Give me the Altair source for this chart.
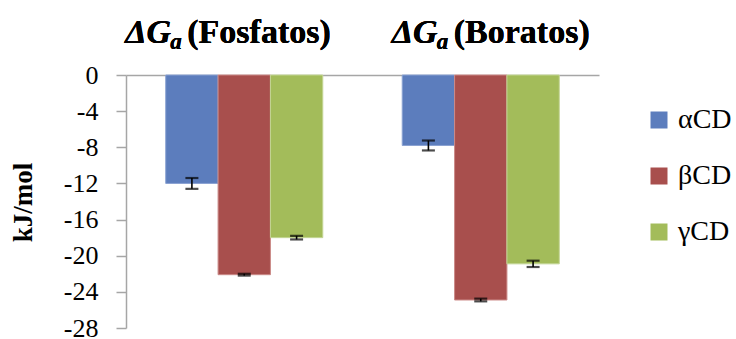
import altair as alt
import pandas as pd

# Gibbs free energy of association (kJ/mol) for each cyclodextrin
groups = ["Fosfatos", "Boratos"]
series = ["αCD", "βCD", "γCD"]
fosfatos = [-12.0, -22.1, -18.0]
boratos = [-7.8, -24.9, -20.9]
err_fosfatos = [0.6, 0.1, 0.2]
err_boratos = [0.55, 0.15, 0.35]
colors = ["#5C7DBD", "#A84F4D", "#A3BC5A"]
edge_colors = ["#8AA2D2", "#CB8A88", "#C3D594"]
y_ticks = [0, -4, -8, -12, -16, -20, -24, -28]

rows = []
for g, vals, errs in [("Fosfatos", fosfatos, err_fosfatos), ("Boratos", boratos, err_boratos)]:
    for s, v, e in zip(series, vals, errs):
        rows.append({"grupo": g, "cd": s, "valor": v, "lo": v - e, "hi": v + e})
df = pd.DataFrame(rows)

FONT = "Liberation Serif"
GRAY = "#A6A6A6"

# shared axis / scale definitions, identical in every layer so they merge cleanly
X_AXIS = alt.Axis(orient="top", labels=False, ticks=False, title=None,
                  domainColor=GRAY, domainWidth=1.5, grid=False)
X_SCALE = alt.Scale(paddingInner=0.336, paddingOuter=0.168)
Y_SCALE = alt.Scale(domain=[-28, 0], nice=False)
Y_AXIS = alt.Axis(
    values=y_ticks, grid=False, tickSize=10, tickColor=GRAY, tickWidth=1.5,
    domainColor=GRAY, domainWidth=1.5, labelFont=FONT, labelFontSize=26,
    labelColor="black", labelPadding=18, labelOverlap=False, labelBound=False,
    labelFlush=False, labelExpr="toString(datum.value)",
    title="kJ/mol", titleFont=FONT,
    titleFontSize=27, titleFontWeight="bold", titleColor="black",
    titleAngle=-90, titleX=-103, titleY=127, titleBaseline="middle",
    titleAlign="center",
)


def x_enc():
    return alt.X("grupo:N", sort=groups, scale=X_SCALE, axis=X_AXIS)


def xoff_enc():
    return alt.XOffset("cd:N", sort=series,
                       scale=alt.Scale(paddingInner=0, paddingOuter=0))


def y_enc(field):
    return alt.Y(f"{field}:Q", scale=Y_SCALE, axis=Y_AXIS)


bars = alt.Chart(df).mark_bar(strokeWidth=1).encode(
    x=x_enc(),
    xOffset=xoff_enc(),
    y=y_enc("valor"),
    y2=alt.datum(0),
    fill=alt.Fill(
        "cd:N", sort=series,
        scale=alt.Scale(domain=series, range=colors),
        legend=alt.Legend(
            title=None, orient="none", legendX=519, legendY=31,
            symbolType="square", symbolSize=289, symbolStrokeWidth=0,
            labelFont=FONT, labelFontSize=28, labelColor="black",
            labelOffset=5, rowPadding=28,
        ),
    ),
    stroke=alt.Stroke("cd:N", sort=series,
                      scale=alt.Scale(domain=series, range=edge_colors),
                      legend=None),
)

err_rule = alt.Chart(df).mark_rule(color="black", strokeWidth=1.6).encode(
    x=x_enc(), xOffset=xoff_enc(), y=y_enc("lo"), y2="hi:Q",
)
cap_lo = alt.Chart(df).mark_tick(color="black", size=13, thickness=2.2).encode(
    x=x_enc(), xOffset=xoff_enc(), y=y_enc("lo"),
)
cap_hi = alt.Chart(df).mark_tick(color="black", size=13, thickness=2.2).encode(
    x=x_enc(), xOffset=xoff_enc(), y=y_enc("hi"),
)


def group_title(group, start):
    """ΔGa heading over a group: italic ΔG, subscript a, bold name."""
    base = alt.Chart(df).transform_filter(alt.datum.grupo == group)
    common = dict(font=FONT, fontWeight="bold", color="black", align="left",
                  baseline="alphabetic")
    delta_g = base.mark_text(text="ΔG", fontSize=34, fontStyle="italic",
                             dx=start, **common).encode(x=x_enc(), y=alt.value(-32))
    sub = base.mark_text(text="a", fontSize=23, fontStyle="italic",
                         dx=start + 45, **common).encode(x=x_enc(), y=alt.value(-26))
    name = base.mark_text(text=f"({group})", fontSize=34,
                          dx=start + 62, **common).encode(x=x_enc(), y=alt.value(-32))
    return delta_g + sub + name


chart = alt.layer(
    bars, err_rule, cap_lo, cap_hi,
    group_title("Fosfatos", -119),
    group_title("Boratos", -89),
).properties(
    width=473, height=253,
    background="white",
    autosize=alt.AutoSizeParams(type="none"),
    padding={"left": 126, "top": 75, "right": 137, "bottom": 11},
).configure_view(stroke=None)

chart.save("out.html", embed_options={"renderer": "svg", "actions": False})
